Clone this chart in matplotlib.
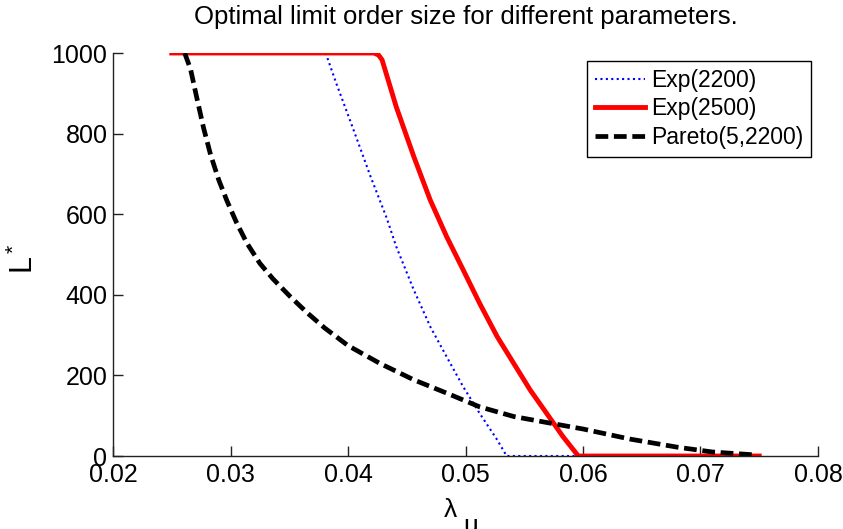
import matplotlib.pyplot as plt
import numpy as np

plt.rcParams['font.family'] = ['Liberation Sans', 'DejaVu Sans']
plt.rcParams['mathtext.fontset'] = 'custom'
plt.rcParams['mathtext.rm'] = 'Liberation Sans'
plt.rcParams['mathtext.it'] = 'Liberation Sans'

# Exp(2200)
exp2200_x = [0.0381, 0.0390, 0.0404, 0.0419, 0.0433, 0.0441, 0.0456, 0.0470, 0.0484,
             0.0498, 0.0512, 0.0527, 0.0535, 0.0597]
exp2200_y = [1000, 925, 815, 695, 590, 520, 412, 321, 246, 172, 106, 40, 0, 0]

# Exp(2500)
exp2500_x = [0.025, 0.0422, 0.0426, 0.0429, 0.0441, 0.0456, 0.0470, 0.0484, 0.0498,
             0.0512, 0.0527, 0.0541, 0.0555, 0.0569, 0.0583, 0.0596, 0.075]
exp2500_y = [1000, 1000, 995, 983, 867, 743, 635, 544, 462, 379, 296, 230, 164, 106, 48, 0, 0]

# Pareto(5,2200)
pareto_x = [0.0261, 0.0266, 0.0271, 0.0277, 0.0283, 0.0290, 0.0297, 0.0305,
            0.0314, 0.0325, 0.0336, 0.0350, 0.0365, 0.0380, 0.0400, 0.0427, 0.0456,
            0.0484, 0.0512, 0.0541, 0.0575, 0.0600, 0.0640, 0.0680, 0.0710, 0.0745]
pareto_y = [1000, 960, 893, 815, 748, 685, 633, 580, 528, 478, 440, 398, 356,
            318, 274, 230, 189, 156, 122, 98, 80, 67, 42, 22, 10, 3]

fig = plt.figure(figsize=(8.43, 5.29), dpi=100)
ax = fig.add_axes([113/843, 73/529, 705/843, 403/529])

ax.plot(exp2200_x, exp2200_y, color='blue', lw=1.5, linestyle=(0, (1, 1.6)), label='Exp(2200)')
ax.plot(exp2500_x, exp2500_y, color='red', lw=3.5, label='Exp(2500)')
ax.plot(pareto_x, pareto_y, color='black', lw=3.4, linestyle=(0, (2.7, 1.2)), label='Pareto(5,2200)')

ax.set_xlim(0.02, 0.08)
ax.set_ylim(0, 1000)
ax.set_xticks(np.arange(0.02, 0.0801, 0.01))
ax.set_xticklabels(['0.02', '0.03', '0.04', '0.05', '0.06', '0.07', '0.08'])
ax.set_yticks(range(0, 1001, 200))

for s in ['top', 'right']:
    ax.spines[s].set_visible(False)
for s in ['left', 'bottom']:
    ax.spines[s].set_linewidth(1.0)
    ax.spines[s].set_color('#222222')

ax.tick_params(direction='in', length=7, width=1, labelsize=18, colors='#222222',
               labelcolor='black', pad=4)
ax.tick_params(axis='x', pad=5)

ax.set_title('Optimal limit order size for different parameters.', fontsize=18.5, pad=21)
ax.set_ylabel(r'$\mathregular{L^*}$', fontsize=22)
ax.yaxis.set_label_coords(-0.104, 0.49)

# x label: lambda with subscript u sitting low (partly cut at the bottom)
fig.text(450/843, 1 - 517/529, 'λ', fontsize=19, ha='center', va='baseline')
fig.text(463/843, 1 - 533/529, 'u', fontsize=19, ha='left', va='baseline')

leg = ax.legend(loc='upper right', bbox_to_anchor=(0.99, 0.981), fontsize=16.5,
                fancybox=False, framealpha=1, edgecolor='black', handlelength=2.2,
                handletextpad=0.25, labelspacing=0.25, borderpad=0.35, borderaxespad=0)
leg.get_frame().set_linewidth(1.0)

fig.savefig('out.png', dpi=100)
